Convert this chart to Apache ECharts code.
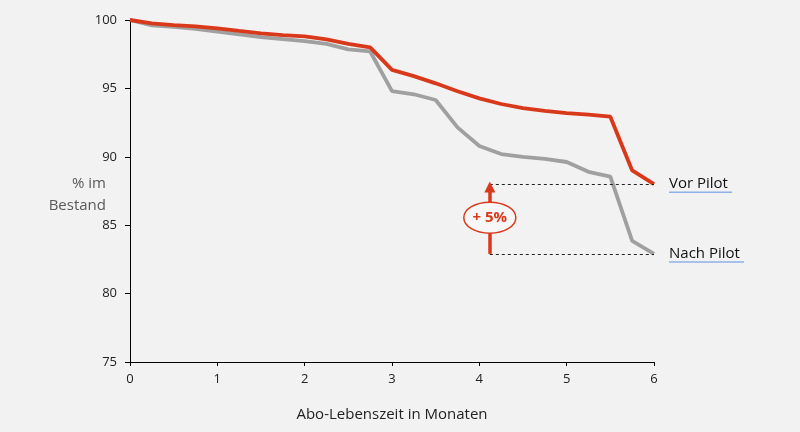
<!DOCTYPE html>
<html>
<head>
<meta charset="utf-8">
<script src="https://cdn.jsdelivr.net/npm/echarts@6/dist/echarts.min.js"></script>
<style>
  html, body { margin: 0; padding: 0; background: #f2f2f2; }
  #chart { width: 800px; height: 432px; }
</style>
</head>
<body>
<div id="chart"></div>
<script>
// Abo-Lebenszeit (Monate), Viertelmonatsschritte
var months = [0, 0.25, 0.5, 0.75, 1, 1.25, 1.5, 1.75, 2, 2.25, 2.5, 2.75, 3,
  3.25, 3.5, 3.75, 4, 4.25, 4.5, 4.75, 5, 5.25, 5.5, 5.75, 6]
// % im Bestand
var vorPilot = [100, 99.76, 99.63, 99.53, 99.39, 99.2, 99.03, 98.9, 98.8, 98.59, 98.25, 98.0, 96.35,
  95.9, 95.37, 94.79, 94.27, 93.86, 93.55, 93.35, 93.2, 93.08, 92.93, 89.0, 88.0]
var nachPilot = [100, 99.6, 99.5, 99.35, 99.15, 98.95, 98.75, 98.6, 98.45, 98.25, 97.85, 97.7, 94.8,
  94.57, 94.15, 92.15, 90.79, 90.2, 90.0, 89.85, 89.62, 88.9, 88.55, 83.85, 82.9]
var seriesNames = ['Vor Pilot', 'Nach Pilot']
var deltaLabel = '+ 5%'
var arrowX = 4.12

var RED = '#d9391b'
var GREY = '#a0a0a0'
var FONT = '"Open Sans", "Noto Sans", sans-serif'

function pairs (xs, ys) {
  return xs.map(function (x, i) { return [x, ys[i]] })
}

var chart = echarts.init(document.getElementById('chart'))

var lastVor = vorPilot[vorPilot.length - 1]
var lastNach = nachPilot[nachPilot.length - 1]

chart.setOption({
  backgroundColor: '#f2f2f2',
  animation: false,
  grid: { left: 130, right: 146, top: 20, bottom: 70 },
  xAxis: {
    type: 'value',
    min: 0,
    max: 6,
    interval: 1,
    axisLine: { show: true, lineStyle: { color: '#000', width: 1 } },
    axisTick: { show: true, length: 4, lineStyle: { color: '#000' } },
    splitLine: { show: false },
    axisLabel: { color: '#222', fontSize: 13, fontFamily: FONT, margin: 11 },
    name: 'Abo-Lebenszeit in Monaten',
    nameLocation: 'middle',
    nameGap: 45,
    nameTextStyle: { color: '#222', fontSize: 15, fontFamily: FONT }
  },
  yAxis: {
    type: 'value',
    min: 75,
    max: 100,
    interval: 5,
    axisLine: { show: true, lineStyle: { color: '#000', width: 1 } },
    axisTick: { show: true, length: 5, lineStyle: { color: '#000' } },
    splitLine: { show: false },
    axisLabel: { color: '#222', fontSize: 13, fontFamily: FONT, margin: 13 }
  },
  series: [
    {
      name: seriesNames[1],
      type: 'line',
      data: pairs(months, nachPilot),
      showSymbol: false,
      lineStyle: { color: GREY, width: 3.8 },
      z: 2,
      markLine: {
        silent: true,
        symbol: 'none',
        label: { show: false },
        lineStyle: { color: '#222', type: [3, 3], width: 1 },
        data: [
          [{ coord: [arrowX, lastNach] }, { coord: [6, lastNach] }],
          [{ coord: [arrowX, lastVor] }, { coord: [6, lastVor] }]
        ]
      }
    },
    {
      name: seriesNames[0],
      type: 'line',
      data: pairs(months, vorPilot),
      showSymbol: false,
      lineStyle: { color: RED, width: 3.8 },
      z: 3,
      markLine: {
        silent: true,
        symbol: ['none', 'triangle'],
        symbolSize: [11, 11],
        label: { show: false },
        lineStyle: { color: RED, type: 'solid', width: 3.5 },
        data: [
          [{ coord: [arrowX, lastNach] }, { coord: [arrowX, lastVor - 0.2] }]
        ]
      }
    }
  ]
})

// Annotations placed via the chart's own scales
var pVor = chart.convertToPixel({ gridIndex: 0 }, [6, lastVor])
var pNach = chart.convertToPixel({ gridIndex: 0 }, [6, lastNach])
var pEll = chart.convertToPixel({ gridIndex: 0 }, [arrowX, (lastVor + lastNach) / 2 + 0.1])
var pMid = chart.convertToPixel({ gridIndex: 0 }, [0, 87.2])

var labelX = pVor[0] + 15

chart.setOption({
  graphic: [
    {
      type: 'text',
      x: pMid[0] - 24,
      y: pMid[1],
      style: {
        text: '% im\nBestand',
        align: 'right',
        verticalAlign: 'middle',
        fill: '#595959',
        fontSize: 15,
        lineHeight: 22,
        fontFamily: FONT
      }
    },
    {
      type: 'ellipse',
      shape: { cx: pEll[0], cy: pEll[1], rx: 26, ry: 15.5 },
      style: { fill: '#f7f7f7', stroke: RED, lineWidth: 1.5 },
      z: 100
    },
    {
      type: 'text',
      x: pEll[0],
      y: pEll[1],
      style: {
        text: deltaLabel,
        align: 'center',
        verticalAlign: 'middle',
        fill: RED,
        fontSize: 15,
        fontWeight: 'bold',
        fontFamily: FONT
      },
      z: 101
    },
    {
      type: 'text',
      x: labelX,
      y: pVor[1],
      style: {
        text: seriesNames[0],
        verticalAlign: 'middle',
        fill: '#111',
        fontSize: 15,
        fontFamily: FONT
      }
    },
    {
      type: 'line',
      shape: { x1: labelX, y1: pVor[1] + 8, x2: labelX + 63, y2: pVor[1] + 8 },
      style: { stroke: '#8fb0e6', lineWidth: 1.5 }
    },
    {
      type: 'text',
      x: labelX,
      y: pNach[1],
      style: {
        text: seriesNames[1],
        verticalAlign: 'middle',
        fill: '#111',
        fontSize: 15,
        fontFamily: FONT
      }
    },
    {
      type: 'line',
      shape: { x1: labelX, y1: pNach[1] + 8, x2: labelX + 75, y2: pNach[1] + 8 },
      style: { stroke: '#8fb0e6', lineWidth: 1.5 }
    }
  ]
})
</script>
</body>
</html>
